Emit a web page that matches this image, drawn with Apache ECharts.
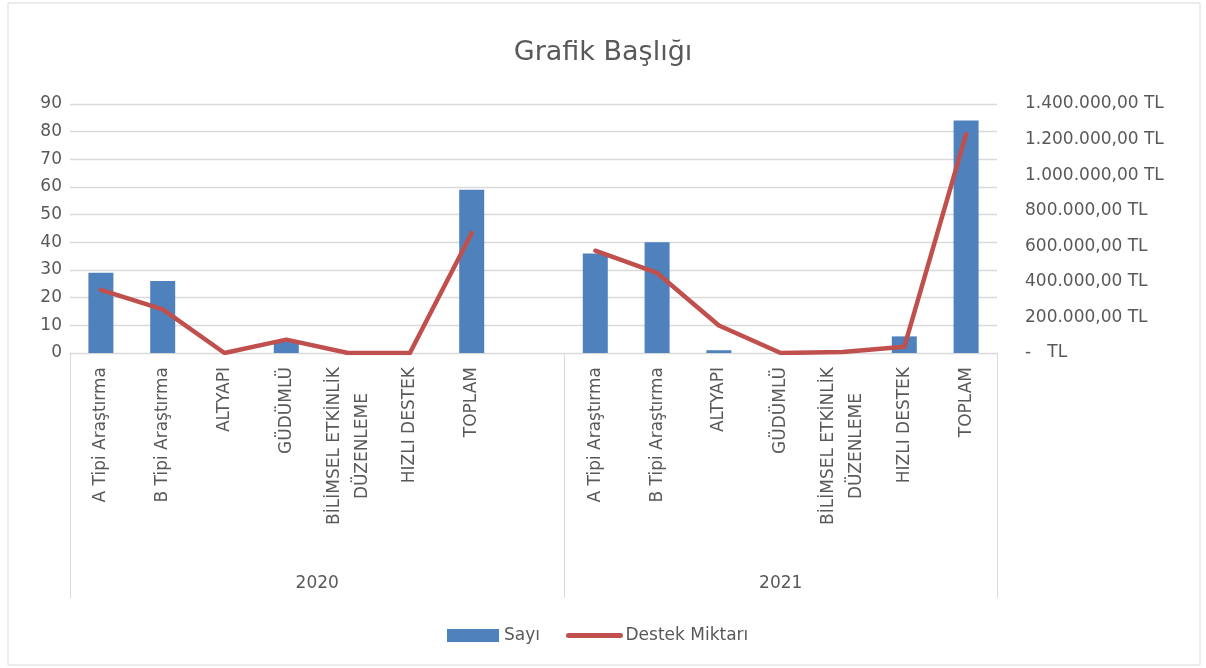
<!DOCTYPE html>
<html>
<head>
<meta charset="utf-8">
<script src="https://cdn.jsdelivr.net/npm/echarts@6.0.0/dist/echarts.min.js"></script>
<style>
  html, body { margin: 0; padding: 0; background: #fff; }
  #chart { width: 1206px; height: 668px; }
</style>
</head>
<body>
<div id="chart"></div>
<script>
// one group per year, 2020 has an empty trailing slot in the source sheet
const categories = ['A Tipi Araştırma', 'B Tipi Araştırma', 'ALTYAPI', 'GÜDÜMLÜ', 'BİLİMSEL ETKİNLİK\nDÜZENLEME', 'HIZLI DESTEK', 'TOPLAM']
const years = ['2020', '2021']

const sayi2020 = [29, 26, 0, 4, 0, 0, 59]
const sayi2021 = [36, 40, 1, 0, 0, 6, 84]

const destek2020 = [355000, 245000, 0, 75000, 0, 0, 675000]
const destek2021 = [575000, 450000, 155000, 0, 5000, 35000, 1230000]

const leftTicks = [0, 90, 10]
const rightTicks = [0, 1400000, 200000]

const FONT = 'DejaVu Sans'
const TEXT = '#595959'
const GRID_LINE = '#d9d9d9'

const xLabels = categories.concat([''], categories)
const sayiData = sayi2020.concat([null], sayi2021)
const destekData = destek2020.concat([null], destek2021)

const groupSlots = [categories.length + 1, categories.length]
const groupBounds = [0]
groupSlots.forEach((n) => groupBounds.push(groupBounds[groupBounds.length - 1] + n))
const groupCenters = groupSlots.map((n, i) => groupBounds[i] + n / 2)

const fmtTL = (v) => {
  if (v === 0) return '-   TL'
  const parts = v.toFixed(2).split('.')
  return parts[0].replace(/\B(?=(\d{3})+(?!\d))/g, '.') + ',' + parts[1] + ' TL'
}

// wrapped labels in Excel are centred line by line
const ctx = document.createElement('canvas').getContext('2d')
ctx.font = '17px "' + FONT + '"'
const catLabel = (name) => {
  if (name.indexOf('\n') < 0) return name
  const lines = name.split('\n')
  return lines.map((l) => '{c|' + l + '}').join('\n')
}
const wrapWidth = Math.ceil(Math.max(...categories.flatMap((c) => c.split('\n')).map((l) => ctx.measureText(l).width)))

const chart = echarts.init(document.getElementById('chart'))

const option = {
  animation: false,
  textStyle: { fontFamily: FONT, color: TEXT },
  graphic: [
    {
      type: 'rect',
      shape: { x: 8, y: 3, width: 1192, height: 662 },
      style: { fill: 'none', stroke: GRID_LINE, lineWidth: 1 },
      silent: true
    }
  ],
  title: {
    text: 'Grafik Başlığı',
    left: 'center',
    top: 34,
    textStyle: { fontFamily: FONT, fontSize: 27, fontWeight: 'normal', color: TEXT }
  },
  legend: {
    left: 442,
    top: 622,
    itemWidth: 52,
    itemHeight: 13,
    itemGap: 26,
    textStyle: { fontFamily: FONT, fontSize: 17, color: TEXT },
    data: [
      { name: 'Sayı', icon: 'rect' },
      { name: 'Destek Miktarı', itemStyle: { opacity: 0 }, lineStyle: { width: 5, cap: 'round' } }
    ]
  },
  grid: { left: 70, right: 209, top: 104, bottom: 315 },
  xAxis: [
    {
      type: 'category',
      data: xLabels,
      axisLine: { lineStyle: { color: GRID_LINE, width: 1 } },
      axisTick: { show: false },
      axisLabel: {
        interval: 0,
        rotate: 90,
        margin: 14,
        fontFamily: FONT,
        fontSize: 17,
        color: TEXT,
        lineHeight: 28,
        formatter: catLabel,
        rich: { c: { width: wrapWidth, align: 'center', fontFamily: FONT, fontSize: 17, color: TEXT, lineHeight: 28 } }
      }
    },
    {
      type: 'value',
      position: 'bottom',
      min: 0,
      max: groupBounds[groupBounds.length - 1],
      axisLine: { show: false },
      splitLine: { show: false },
      axisTick: { show: true, customValues: groupBounds, length: 245, lineStyle: { color: GRID_LINE, width: 1 } },
      axisLabel: {
        customValues: groupCenters,
        margin: 222,
        fontFamily: FONT,
        fontSize: 17,
        color: TEXT,
        formatter: (v) => years[groupCenters.indexOf(v)] || ''
      }
    }
  ],
  yAxis: [
    {
      type: 'value',
      min: leftTicks[0],
      max: leftTicks[1],
      interval: leftTicks[2],
      axisLine: { show: false },
      axisTick: { show: false },
      splitLine: { lineStyle: { color: GRID_LINE, width: 1.3 } },
      axisLabel: { margin: 8, fontFamily: FONT, fontSize: 17, color: TEXT }
    },
    {
      type: 'value',
      min: rightTicks[0],
      max: rightTicks[1],
      interval: rightTicks[2],
      axisLine: { show: false },
      axisTick: { show: false },
      splitLine: { show: false },
      axisLabel: { margin: 28, fontFamily: FONT, fontSize: 17, color: TEXT, formatter: fmtTL }
    }
  ],
  series: [
    {
      name: 'Sayı',
      type: 'bar',
      data: sayiData,
      barWidth: 25,
      itemStyle: { color: '#4f81bd' }
    },
    {
      name: 'Destek Miktarı',
      type: 'line',
      yAxisIndex: 1,
      data: destekData,
      symbol: 'none',
      connectNulls: false,
      lineStyle: { color: '#c0504d', width: 4.5, cap: 'round', join: 'round' },
      itemStyle: { color: '#c0504d' }
    }
  ]
}

chart.setOption(option)
</script>
</body>
</html>
